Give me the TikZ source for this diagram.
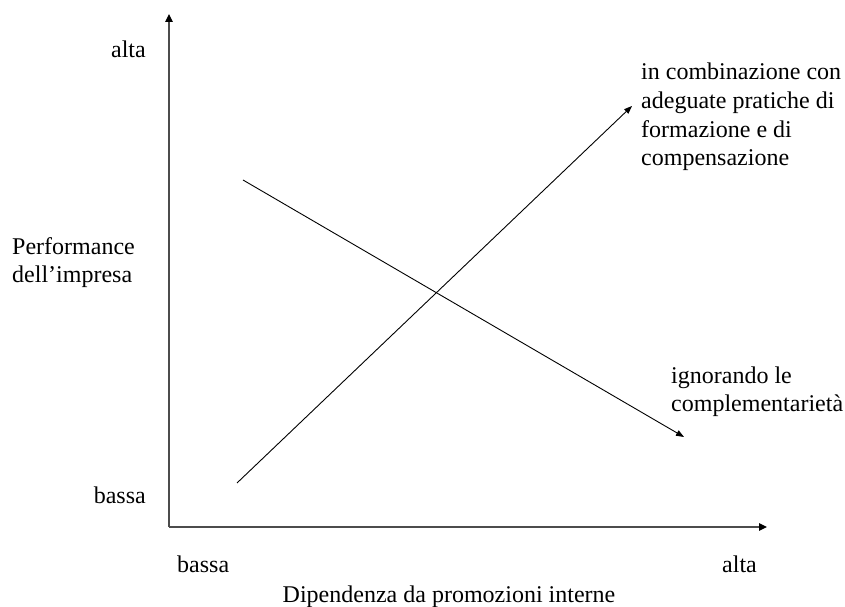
\documentclass[tikz,border=0pt]{standalone}
\usepackage{fontspec}
\setmainfont{Liberation Serif}
\usetikzlibrary{arrows.meta}
\begin{document}
\begin{tikzpicture}[x=1pt,y=1pt,
  axis/.style={line width=1.1pt,black!70,-{Triangle[length=8pt,width=7.5pt,black]}},
  trend/.style={line width=0.9pt,-{Triangle[length=8pt,width=6pt]}},
  lab/.style={font=\fontsize{24}{28.8}\selectfont,inner sep=0pt},
  blk/.style={lab,align=left,anchor=base west}]
\useasboundingbox (0,0) rectangle (845,607);
\coordinate (O) at (169,80);
\coordinate (ytip) at (169,593);
\coordinate (xtip) at (767,80);
\draw[axis] (O) -- (ytip);
\draw[axis] (O) -- (xtip);
\coordinate (a1) at (237,124);
\coordinate (a2) at (632,501);
\coordinate (b1) at (243,427);
\coordinate (b2) at (684,170);
\draw[trend] (a1) -- (a2);
\draw[trend] (b1) -- (b2);
\node[lab,anchor=base east] (yhi) at (146,549) {alta};
\node[lab,anchor=base east] (ylo) at (146,103) {bassa};
\node[blk] (ylab) at (12,324) {Performance\\dell'impresa};
\node[lab,anchor=base west] (xlo) at (177,34) {bassa};
\node[lab,anchor=base west] (xhi) at (722,34) {alta};
\node[lab,anchor=base] (xlab) at (449,5) {Dipendenza da promozioni interne};
\node[blk] (l1) at (641,441) {in combinazione con\\adeguate pratiche di\\formazione e di\\compensazione};
\node[blk] (l2) at (671,195) {ignorando le\\complementarietà};
\end{tikzpicture}
\end{document}
